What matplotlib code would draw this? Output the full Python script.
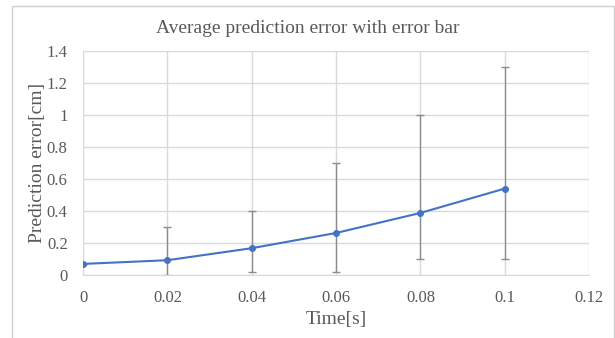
import matplotlib.pyplot as plt
from matplotlib.lines import Line2D

# data
time_s = [0, 0.02, 0.04, 0.06, 0.08, 0.1]
mean_err = [0.07, 0.093, 0.168, 0.263, 0.388, 0.54]
err_low = [0.07, 0.0, 0.02, 0.017, 0.1, 0.1]
err_high = [0.07, 0.3, 0.4, 0.7, 1.0, 1.3]
x_ticks = [0, 0.02, 0.04, 0.06, 0.08, 0.1, 0.12]
y_ticks = [0, 0.2, 0.4, 0.6, 0.8, 1, 1.2, 1.4]

plt.rcParams['font.family'] = ['Liberation Serif', 'DejaVu Serif']
text_color = '#595959'
grid_color = '#d9d9d9'

fig = plt.figure(figsize=(6.15, 3.38), dpi=100)
ax = fig.add_axes([0.135, 0.186, 0.823, 0.664])

lower = [m - lo for m, lo in zip(mean_err, err_low)]
upper = [hi - m for m, hi in zip(mean_err, err_high)]
ax.errorbar(time_s, mean_err, yerr=[lower, upper], fmt='none',
            ecolor='#8c8c8c', elinewidth=1.0, capsize=3, capthick=1.0, zorder=2)
ax.plot(time_s, mean_err, color='#4472c4', linewidth=1.5, marker='o',
        markersize=4, zorder=3)

ax.set_xlim(0, 0.12)
ax.set_ylim(0, 1.4)
ax.set_xticks(x_ticks)
ax.set_xticklabels(['0', '0.02', '0.04', '0.06', '0.08', '0.1', '0.12'])
ax.set_yticks(y_ticks)
ax.set_yticklabels(['0', '0.2', '0.4', '0.6', '0.8', '1', '1.2', '1.4'])
ax.grid(True, color=grid_color, linewidth=1.0, zorder=0)
ax.set_axisbelow(True)
for side in ['top', 'right', 'left']:
    ax.spines[side].set_visible(False)
ax.spines['bottom'].set_color(grid_color)
ax.tick_params(length=0, labelsize=12, colors=text_color, pad=11)

ax.set_xlabel('Time[s]', fontsize=14, color=text_color, labelpad=3.5)
ax.set_ylabel('Prediction error[cm]', fontsize=14, color=text_color, labelpad=0.5)
fig.text(0.5, 0.917, 'Average prediction error with error bar', ha='center',
         va='center', fontsize=14, color=text_color)

# outer chart border (left, top, right visible)
x0, x1, y_top = 12 / 615, 613.5 / 615, 1 - 6 / 338
fig.add_artist(Line2D([x0, x0, x1, x1], [0, y_top, y_top, 0],
                      transform=fig.transFigure, color='#d0d0d0', linewidth=1.0))

fig.savefig('out.png', dpi=100)
